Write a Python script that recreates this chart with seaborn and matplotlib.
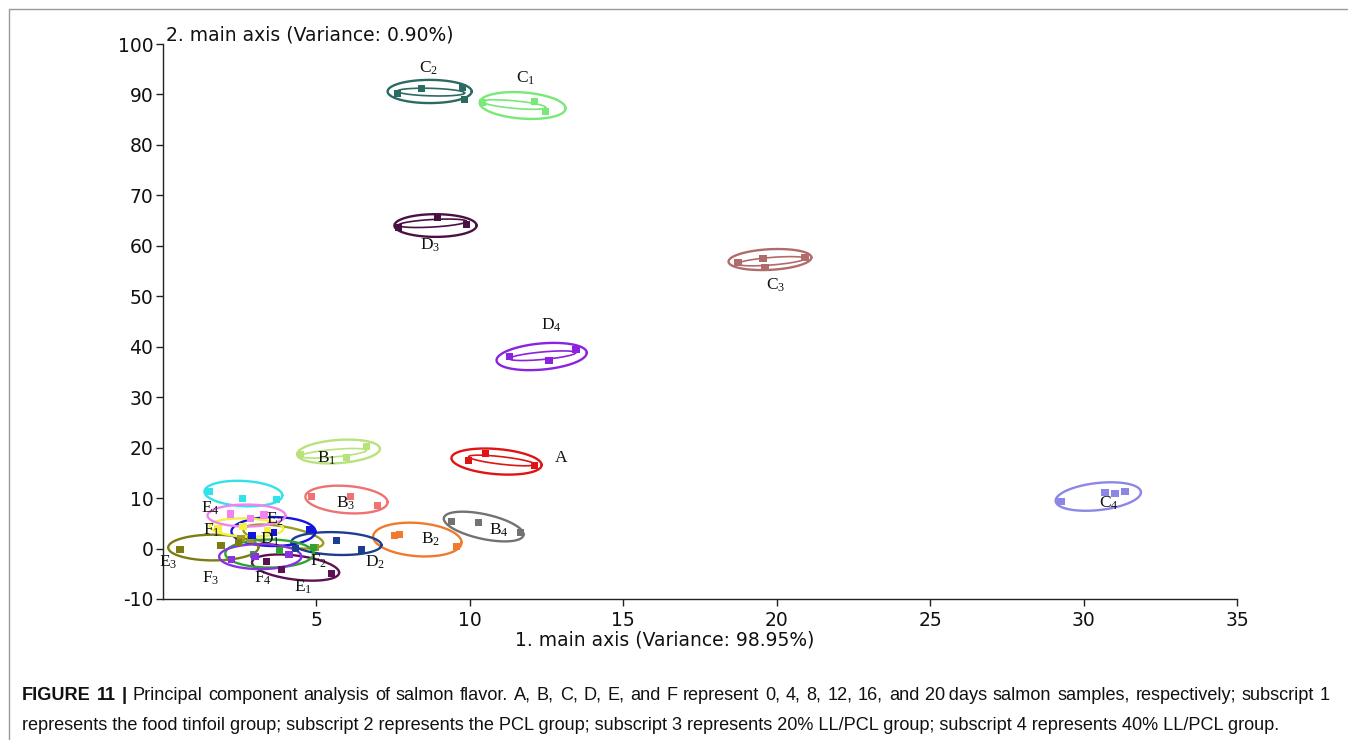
import numpy as np
import pandas as pd
import matplotlib
matplotlib.use("Agg")
import matplotlib.pyplot as plt
import seaborn as sns
from matplotlib.lines import Line2D

# ---------------- data ----------------
groups = ["A", "B1", "B2", "B3", "B4", "C1", "C2", "C3", "C4",
          "D1", "D2", "D3", "D4", "E1", "E2", "E3", "E4",
          "F1", "F2", "F3", "F4"]

pts_group = (["A"] * 3 + ["B1"] * 3 + ["B2"] * 3 + ["B3"] * 3 + ["B4"] * 3 +
             ["C1"] * 3 + ["C2"] * 4 + ["C3"] * 4 + ["C4"] * 4 +
             ["D1"] * 3 + ["D2"] * 3 + ["D3"] * 3 + ["D4"] * 3 +
             ["E1"] * 3 + ["E2"] * 3 + ["E3"] * 3 + ["E4"] * 3 +
             ["F1"] * 3 + ["F2"] * 3 + ["F3"] * 3 + ["F4"] * 3)
pts_pc1 = [9.96, 10.51, 12.11,
           4.48, 5.98, 6.63,
           7.54, 7.71, 9.57,
           4.84, 6.11, 6.99,
           9.40, 10.28, 11.65,
           10.41, 12.11, 12.47,
           7.64, 8.42, 9.76, 9.83,
           18.73, 19.55, 19.61, 20.92,
           29.27, 30.70, 31.03, 31.35,
           2.55, 2.85, 4.97,
           4.32, 5.65, 6.47,
           7.67, 8.95, 9.89,
           11.29, 12.57, 13.45,
           3.37, 3.86, 5.49,
           2.90, 3.60, 4.80,
           0.56, 1.90, 2.46,
           1.50, 2.59, 3.70,
           1.80, 2.60, 3.40,
           2.95, 3.80, 4.90,
           2.20, 2.85, 3.30,
           2.23, 3.00, 4.10]
pts_pc2 = [17.44, 18.83, 16.45,
           18.63, 18.04, 20.22,
           2.58, 2.78, 0.40,
           10.31, 10.31, 8.52,
           5.35, 5.15, 3.17,
           88.40, 88.60, 86.62,
           90.19, 91.18, 91.38, 89.00,
           56.69, 57.48, 55.70, 57.68,
           9.32, 11.10, 10.90, 11.30,
           1.98, 1.78, 0.20,
           0.00, 1.59, -0.20,
           63.63, 65.61, 64.22,
           38.06, 37.26, 39.44,
           -2.58, -4.16, -4.96,
           2.60, 3.20, 3.77,
           -0.20, 0.60, 1.19,
           11.30, 9.91, 9.71,
           4.00, 4.40, 3.60,
           -1.19, -0.40, 0.20,
           6.80, 5.95, 6.60,
           -2.18, -1.60, -1.20]

# confidence ellipses: centre, semi-axes (PC1, PC2) and shear
ell_cx = [10.87, 5.72, 8.29, 5.98, 10.45, 11.72, 8.69, 19.78, 30.48,
          3.92, 5.65, 8.88, 12.34, 4.32, 3.60, 1.64, 2.62, 2.72, 3.47, 2.72, 3.17]
ell_cy = [17.24, 19.23, 1.78, 9.71, 4.36, 87.81, 90.59, 57.28, 10.31,
          2.38, 0.99, 64.02, 38.06, -3.77, 3.37, 0.20, 10.90, 4.16, -0.99, 6.54, -1.59]
ell_ax = [1.47, 1.35, 1.44, 1.34, 1.30, 1.40, 1.37, 1.35, 1.39,
          1.30, 1.47, 1.34, 1.47, 1.42, 1.37, 1.47, 1.27, 1.20, 1.44, 1.27, 1.34]
ell_ay = [2.50, 2.30, 3.30, 2.70, 2.50, 2.60, 2.30, 2.05, 2.70,
          2.00, 2.25, 2.25, 2.60, 2.40, 2.87, 2.55, 2.50, 1.80, 2.78, 2.18, 2.48]
ell_shear = [-0.46, 0.40, -0.40, -0.40, -1.20, -0.40, 0.00, 0.30, 0.60,
             -1.00, -0.20, 0.00, 0.50, -0.70, 0.00, 0.00, -0.30, -0.20, 0.00, 0.00, 0.00]

# label anchor positions (data units)
lab_x = [12.99, 5.33, 8.72, 5.95, 10.94, 11.82, 8.65, 19.97, 30.83,
         3.50, 6.92, 8.72, 12.67, 4.58, 3.65, 0.17, 1.54, 1.58, 5.07, 1.54, 3.27]
lab_y = [18.24, 18.04, 1.98, 9.12, 3.77, 93.36, 95.34, 52.33, 9.12,
         1.90, -2.58, 60.26, 44.40, -7.53, 5.90, -2.58, 8.13, 3.77, -2.38, -5.75, -5.75]

inner_groups = ["A", "B1", "C1", "C2", "C3", "D3", "D4"]

x_ticks = [5, 10, 15, 20, 25, 30, 35]
y_ticks = [-10, 0, 10, 20, 30, 40, 50, 60, 70, 80, 90, 100]

x_title = "1. main axis (Variance: 98.95%)"
y_title = "2. main axis (Variance: 0.90%)"
caption_bold = ["FIGURE", "11", "|"]
caption_1 = ("Principal component analysis of salmon flavor. A, B, C, D, E, and F represent "
             "0, 4, 8, 12, 16, and 20\u2009days salmon samples, respectively; subscript 1")
caption_2 = ("represents the food tinfoil group; subscript 2 represents the PCL group; "
             "subscript 3 represents 20% LL/PCL group; subscript 4 represents 40% LL/PCL group.")

colors = {
    "A": "#e01414", "B1": "#b8e27c", "B2": "#f07a2c", "B3": "#ee7272", "B4": "#727272",
    "C1": "#78e878", "C2": "#2c6a64", "C3": "#b06c6c", "C4": "#8c86e6",
    "D1": "#9c9c1e", "D2": "#1c3e8e", "D3": "#4a1044", "D4": "#8a22e0",
    "E1": "#5c1252", "E2": "#1414e0", "E3": "#7c7c12", "E4": "#30e2ea",
    "F1": "#f2f040", "F2": "#2ea42e", "F3": "#f282f2", "F4": "#8a32e2",
}

# ---------------- figure ----------------
sns.set_style("ticks")
plt.rcParams["font.family"] = ["DejaVu Sans"]
plt.rcParams["mathtext.fontset"] = "custom"
plt.rcParams["mathtext.rm"] = "Liberation Serif"
plt.rcParams["mathtext.it"] = "Liberation Serif:italic"

fig = plt.figure(figsize=(13.55, 7.40), dpi=100)
ax = fig.add_axes([163 / 1355, 1 - 599 / 740, (1237 - 163) / 1355, (599 - 44) / 740])

df = pd.DataFrame({"group": pts_group, "pc1": pts_pc1, "pc2": pts_pc2})

t = np.linspace(0, 2 * np.pi, 200)
for i, g in enumerate(groups):
    c = colors[g]
    ex = ell_cx[i] + ell_ax[i] * np.cos(t)
    ey = ell_cy[i] + ell_ay[i] * np.sin(t) + ell_shear[i] * ell_ax[i] * np.cos(t)
    ax.plot(ex, ey, color=c, lw=1.7, clip_on=False, zorder=2)
    if g in inner_groups:
        sub = df[df.group == g]
        xs, ys = sub.pc1.values, sub.pc2.values
        k, b0 = np.polyfit(xs, ys, 1)
        mx = (xs.min() + xs.max()) / 2
        ra = (xs.max() - xs.min()) / 2
        ix = mx + ra * np.cos(t)
        iy = k * mx + b0 + 0.75 * np.sin(t) + k * ra * np.cos(t)
        ax.plot(ix, iy, color=c, lw=1.2, clip_on=False, zorder=2)

sns.scatterplot(data=df, x="pc1", y="pc2", hue="group", palette=colors,
                marker="s", s=30, linewidth=0, legend=False, ax=ax, zorder=3,
                clip_on=False)

for i, g in enumerate(groups):
    if len(g) == 1:
        txt = r"$\mathrm{%s}$" % g
    else:
        txt = r"$\mathrm{%s}_{%s}$" % (g[0], g[1])
    ax.text(lab_x[i], lab_y[i], txt, fontsize=12.5, ha="center", va="center",
            color="#111111", zorder=4, clip_on=False)

ax.set_xlim(0, 35)
ax.set_ylim(-10, 100)
ax.set_xticks(x_ticks)
ax.set_yticks(y_ticks)
ax.set_xticklabels([str(v) for v in x_ticks])
ax.set_yticklabels([str(v) for v in y_ticks])
ax.tick_params(axis="both", direction="out", length=5, width=1, color="#222222",
               labelsize=13.5, labelcolor="#111111")
ax.tick_params(axis="y", pad=2)
ax.tick_params(axis="x", pad=4)
ax.set_xlabel("")
ax.set_ylabel("")
for s in ["top", "right"]:
    ax.spines[s].set_visible(False)
for s in ["left", "bottom"]:
    ax.spines[s].set_color("#222222")
    ax.spines[s].set_linewidth(1.0)
ax.set_facecolor("none")

fig.text(665 / 1355, 1 - 640 / 740, x_title, ha="center", va="center",
         fontsize=13.5, color="#111111")
fig.text(166 / 1355, 1 - 35 / 740, y_title, ha="left", va="center",
         fontsize=13.5, color="#111111")

# outer frame
fig.add_artist(Line2D([9 / 1355, 9 / 1355], [0, 1 - 9 / 740], transform=fig.transFigure,
                      color="#9a9a9a", lw=1.0))
fig.add_artist(Line2D([9 / 1355, 1347 / 1355], [1 - 9 / 740, 1 - 9 / 740],
                      transform=fig.transFigure, color="#9a9a9a", lw=1.0))

# caption (first line justified between x=22 and x=1330 px)
cap_font = ["Liberation Sans", "DejaVu Sans"]
cap_size = 13.1
line1_y = 1 - 695 / 740
line2_y = 1 - 725 / 740
r = fig.canvas.get_renderer()
tokens = [(w, "bold") for w in caption_bold] + [(w, "normal") for w in caption_1.split(" ")]
arts = []
total = 0.0
for w, wt in tokens:
    a = fig.text(0, line1_y, w, ha="left", va="center", fontsize=cap_size,
                 fontweight=wt, family=cap_font, color="#111111")
    wpx = a.get_window_extent(renderer=r).width
    arts.append((a, wpx))
    total += wpx
x0, x1 = 22.0, 1330.0
gap = (x1 - x0 - total) / (len(tokens) - 1)
xc = x0
for a, wpx in arts:
    a.set_x(xc / 1355)
    xc += wpx + gap
fig.text(22 / 1355, line2_y, caption_2, ha="left", va="center",
         fontsize=cap_size, family=cap_font, color="#111111")

fig.savefig("out.png", dpi=100, facecolor="white")
